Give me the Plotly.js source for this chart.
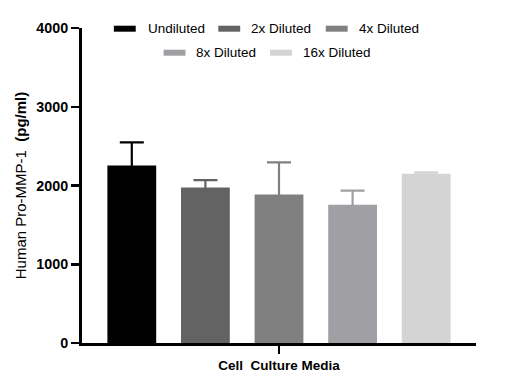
<!DOCTYPE html>
<html>
<head>
<meta charset="utf-8">
<script src="https://cdn.plot.ly/plotly-3.0.1.min.js"></script>
<style>html,body{margin:0;padding:0;background:#fff;}#chart{width:520px;height:389px;}</style>
</head>
<body>
<div id="chart"></div>
<script>
const category = ['Cell\u00a0 Culture Media'];
const seriesNames = ['Undiluted', '2x Diluted', '4x Diluted', '8x Diluted', '16x Diluted'];
const seriesValues = [2255, 1975, 1887, 1756, 2150];
const seriesErrors = [292, 94, 406, 178, 16];
const seriesColors = ['#000000', '#636363', '#808080', '#a0a0a4', '#d4d4d4'];
const yTicks = [0, 1000, 2000, 3000, 4000];

const FONT = 'Arial, "Liberation Sans", sans-serif';

const traces = seriesNames.map((name, i) => ({
  type: 'bar',
  name: name,
  x: category,
  y: [seriesValues[i]],
  marker: {color: seriesColors[i], line: {width: 0}},
  error_y: {type: 'data', symmetric: true, array: [seriesErrors[i]],
            color: seriesColors[i], thickness: 2.2, width: 12},
  showlegend: false
}));

// custom legend: wide rectangle swatches + text (pixel layout converted to paper coords)
const plotL = 80, plotW = 396, plotB = 343.3, plotH = 315;
const px2x = p => (p - plotL) / plotW;
const px2y = p => (plotB - p) / plotH;
const legendPos = [
  {sx: 112, ty: 29, tx: 144},
  {sx: 217, ty: 29, tx: 248},
  {sx: 325, ty: 29, tx: 356},
  {sx: 162, ty: 53, tx: 193},
  {sx: 269, ty: 53, tx: 300}
];
const shapes = [];
const annotations = [];
seriesNames.forEach((name, i) => {
  const p = legendPos[i];
  shapes.push({type: 'rect', xref: 'paper', yref: 'paper',
    x0: px2x(p.sx), x1: px2x(p.sx + 22), y0: px2y(p.ty + 3), y1: px2y(p.ty - 3),
    fillcolor: seriesColors[i], line: {width: 0}, layer: 'above'});
  annotations.push({xref: 'paper', yref: 'paper', x: px2x(p.tx), y: px2y(p.ty),
    xanchor: 'left', yanchor: 'middle', text: name, showarrow: false,
    font: {family: FONT, size: 13.5, color: '#000'}});
});

const layout = {
  width: 520, height: 389,
  margin: {l: 81.5, r: 44, t: 28, b: 46, pad: 0},
  paper_bgcolor: '#fff', plot_bgcolor: '#fff',
  barmode: 'group', bargap: 0.066, bargroupgap: 0.337,
  font: {family: FONT, color: '#000'},
  xaxis: {
    type: 'category', showline: true, linecolor: '#000', linewidth: 3,
    ticks: 'outside', ticklen: 8, tickwidth: 2.5, tickcolor: '#000',
    tickfont: {family: FONT, size: 13.5, weight: 'bold', color: '#000'},
    showgrid: false, zeroline: false, fixedrange: true
  },
  yaxis: {
    range: [0, 4000], tickvals: yTicks, ticktext: yTicks.map(String),
    showline: true, linecolor: '#000', linewidth: 3,
    ticks: 'outside', ticklen: 8, tickwidth: 2.5, tickcolor: '#000',
    tickfont: {family: FONT, size: 14.3, weight: 'bold', color: '#000'},
    showgrid: false, zeroline: false,
    title: {text: 'Human Pro-MMP-1\u00a0 <b>(pg/ml)</b>', standoff: 7,
            font: {family: FONT, size: 15, color: '#000'}}
  },
  shapes: shapes,
  annotations: annotations
};

Plotly.newPlot('chart', traces, layout, {displayModeBar: false, staticPlot: true});
</script>
</body>
</html>
